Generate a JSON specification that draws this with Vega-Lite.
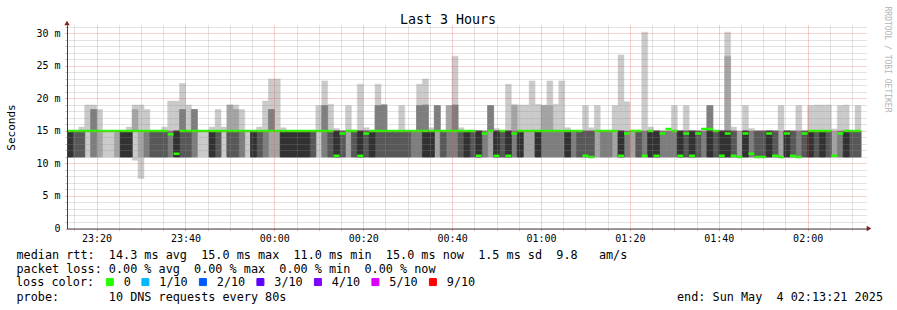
{
  "$schema": "https://vega.github.io/schema/vega-lite/v6.json",
  "width": 800,
  "height": 203.5,
  "autosize": {"type": "none"},
  "padding": {"left": 67, "top": 25, "right": 30, "bottom": 81.5},
  "background": "#ffffff",
  "title": {"text": "Last 3 Hours", "font": "DejaVu Sans Mono", "fontSize": 13.3, "fontWeight": "normal", "color": "#000000", "anchor": "middle", "frame": "group", "dx": -19, "dy": 24},
  "config": {"view": {"stroke": null}, "font": "DejaVu Sans Mono"},
  "data": {"values": [
{"t":"2025-05-03T23:13:20","e":"2025-05-03T23:14:40","p1":11,"p2":11,"p3":11,"p4":11,"p5":11,"p6":15,"p7":15,"p8":15,"p9":15,"p10":15,"m":15},
{"t":"2025-05-03T23:14:40","e":"2025-05-03T23:16:00","p1":11,"p2":11,"p3":11,"p4":11,"p5":15,"p6":15,"p7":15,"p8":15,"p9":15,"p10":15,"m":15},
{"t":"2025-05-03T23:16:00","e":"2025-05-03T23:17:20","p1":11,"p2":11,"p3":11,"p4":11,"p5":15,"p6":15,"p7":15,"p8":15,"p9":15,"p10":15.6,"m":15},
{"t":"2025-05-03T23:17:20","e":"2025-05-03T23:18:40","p1":11,"p2":15,"p3":15,"p4":15,"p5":15,"p6":15,"p7":15,"p8":15,"p9":15,"p10":19,"m":15},
{"t":"2025-05-03T23:18:40","e":"2025-05-03T23:20:00","p1":11,"p2":11,"p3":11,"p4":15,"p5":15,"p6":15,"p7":15,"p8":18.3,"p9":18.3,"p10":19,"m":15},
{"t":"2025-05-03T23:20:00","e":"2025-05-03T23:21:20","p1":11,"p2":11,"p3":15,"p4":15,"p5":15,"p6":15,"p7":15,"p8":15,"p9":15,"p10":18.3,"m":15},
{"t":"2025-05-03T23:21:20","e":"2025-05-03T23:22:40","p1":11,"p2":15,"p3":15,"p4":15,"p5":15,"p6":15,"p7":15,"p8":15,"p9":15,"p10":15,"m":15},
{"t":"2025-05-03T23:22:40","e":"2025-05-03T23:24:00","p1":11,"p2":15,"p3":15,"p4":15,"p5":15,"p6":15,"p7":15,"p8":15,"p9":15,"p10":15,"m":15},
{"t":"2025-05-03T23:24:00","e":"2025-05-03T23:25:20","p1":11,"p2":11,"p3":15,"p4":15,"p5":15,"p6":15,"p7":15,"p8":15,"p9":15,"p10":15,"m":15},
{"t":"2025-05-03T23:25:20","e":"2025-05-03T23:26:40","p1":11,"p2":11,"p3":11,"p4":11,"p5":11,"p6":15,"p7":15,"p8":15,"p9":15,"p10":15,"m":15},
{"t":"2025-05-03T23:26:40","e":"2025-05-03T23:28:00","p1":11,"p2":11,"p3":11,"p4":11,"p5":11,"p6":15,"p7":15,"p8":15,"p9":15,"p10":15.6,"m":15},
{"t":"2025-05-03T23:28:00","e":"2025-05-03T23:29:20","p1":10.5,"p2":15,"p3":15,"p4":15,"p5":15,"p6":15,"p7":15,"p8":15,"p9":18.3,"p10":19,"m":15},
{"t":"2025-05-03T23:29:20","e":"2025-05-03T23:30:40","p1":7.7,"p2":11,"p3":15,"p4":15,"p5":15,"p6":15,"p7":15,"p8":15,"p9":15,"p10":19,"m":15},
{"t":"2025-05-03T23:30:40","e":"2025-05-03T23:32:00","p1":11,"p2":11,"p3":11,"p4":15,"p5":15,"p6":15,"p7":15,"p8":15,"p9":15,"p10":18.3,"m":15},
{"t":"2025-05-03T23:32:00","e":"2025-05-03T23:33:20","p1":11,"p2":11,"p3":11,"p4":11,"p5":15,"p6":15,"p7":15,"p8":15,"p9":15,"p10":15,"m":15},
{"t":"2025-05-03T23:33:20","e":"2025-05-03T23:34:40","p1":11,"p2":11,"p3":11,"p4":11,"p5":15,"p6":15,"p7":15,"p8":15,"p9":15,"p10":15,"m":15},
{"t":"2025-05-03T23:34:40","e":"2025-05-03T23:36:00","p1":11,"p2":11,"p3":11,"p4":11,"p5":15,"p6":15,"p7":15,"p8":15,"p9":15,"p10":15.6,"m":15},
{"t":"2025-05-03T23:36:00","e":"2025-05-03T23:37:20","p1":11,"p2":11,"p3":11,"p4":15,"p5":15,"p6":15,"p7":15,"p8":15,"p9":15,"p10":19.6,"m":14.5},
{"t":"2025-05-03T23:37:20","e":"2025-05-03T23:38:40","p1":11,"p2":11,"p3":11,"p4":11,"p5":11,"p6":15,"p7":15,"p8":15,"p9":15,"p10":19.6,"m":11.5},
{"t":"2025-05-03T23:38:40","e":"2025-05-03T23:40:00","p1":11,"p2":11,"p3":11,"p4":11,"p5":15,"p6":15,"p7":15,"p8":18.3,"p9":18.3,"p10":22.3,"m":15},
{"t":"2025-05-03T23:40:00","e":"2025-05-03T23:41:20","p1":11,"p2":11,"p3":11,"p4":11,"p5":15,"p6":15,"p7":15,"p8":15,"p9":15,"p10":19,"m":15},
{"t":"2025-05-03T23:41:20","e":"2025-05-03T23:42:40","p1":11,"p2":11,"p3":11,"p4":15,"p5":15,"p6":15,"p7":15,"p8":18.3,"p9":18.3,"p10":18.3,"m":15},
{"t":"2025-05-03T23:42:40","e":"2025-05-03T23:44:00","p1":11,"p2":15,"p3":15,"p4":15,"p5":15,"p6":15,"p7":15,"p8":15,"p9":15,"p10":15,"m":15},
{"t":"2025-05-03T23:44:00","e":"2025-05-03T23:45:20","p1":11,"p2":15,"p3":15,"p4":15,"p5":15,"p6":15,"p7":15,"p8":15,"p9":15,"p10":15,"m":15},
{"t":"2025-05-03T23:45:20","e":"2025-05-03T23:46:40","p1":11,"p2":11,"p3":11,"p4":11,"p5":11,"p6":15,"p7":15,"p8":15,"p9":15,"p10":15.6,"m":15},
{"t":"2025-05-03T23:46:40","e":"2025-05-03T23:48:00","p1":11,"p2":11,"p3":11,"p4":11,"p5":15,"p6":15,"p7":15,"p8":15,"p9":15,"p10":18.3,"m":15},
{"t":"2025-05-03T23:48:00","e":"2025-05-03T23:49:20","p1":11,"p2":15,"p3":15,"p4":15,"p5":15,"p6":15,"p7":15,"p8":15,"p9":15,"p10":15.6,"m":15},
{"t":"2025-05-03T23:49:20","e":"2025-05-03T23:50:40","p1":11,"p2":11,"p3":11,"p4":11,"p5":15,"p6":15,"p7":15,"p8":15,"p9":19,"p10":19,"m":15},
{"t":"2025-05-03T23:50:40","e":"2025-05-03T23:52:00","p1":11,"p2":11,"p3":11,"p4":11,"p5":15,"p6":15,"p7":15,"p8":15,"p9":18.3,"p10":19,"m":15},
{"t":"2025-05-03T23:52:00","e":"2025-05-03T23:53:20","p1":11,"p2":11,"p3":11,"p4":15,"p5":15,"p6":15,"p7":15,"p8":15,"p9":15,"p10":18.3,"m":15},
{"t":"2025-05-03T23:53:20","e":"2025-05-03T23:54:40","p1":11,"p2":15,"p3":15,"p4":15,"p5":15,"p6":15,"p7":15,"p8":15,"p9":15,"p10":15,"m":15},
{"t":"2025-05-03T23:54:40","e":"2025-05-03T23:56:00","p1":11,"p2":11,"p3":11,"p4":11,"p5":11,"p6":15,"p7":15,"p8":15,"p9":15,"p10":15,"m":15},
{"t":"2025-05-03T23:56:00","e":"2025-05-03T23:57:20","p1":11,"p2":11,"p3":11,"p4":11,"p5":15,"p6":15,"p7":15,"p8":15,"p9":15,"p10":15.6,"m":15},
{"t":"2025-05-03T23:57:20","e":"2025-05-03T23:58:40","p1":11,"p2":11,"p3":11,"p4":15,"p5":15,"p6":15,"p7":15,"p8":15,"p9":15,"p10":19.6,"m":15},
{"t":"2025-05-03T23:58:40","e":"2025-05-04T00:00:00","p1":11,"p2":11,"p3":15,"p4":15,"p5":15,"p6":15,"p7":15,"p8":18.3,"p9":18.3,"p10":23,"m":15},
{"t":"2025-05-04T00:00:00","e":"2025-05-04T00:01:20","p1":11,"p2":11,"p3":15,"p4":15,"p5":15,"p6":15,"p7":15,"p8":15,"p9":15,"p10":23,"m":15},
{"t":"2025-05-04T00:01:20","e":"2025-05-04T00:02:40","p1":11,"p2":11,"p3":11,"p4":11,"p5":11,"p6":15,"p7":15,"p8":15,"p9":15,"p10":15.5,"m":15},
{"t":"2025-05-04T00:02:40","e":"2025-05-04T00:04:00","p1":11,"p2":11,"p3":11,"p4":11,"p5":11,"p6":15,"p7":15,"p8":15,"p9":15,"p10":15,"m":15},
{"t":"2025-05-04T00:04:00","e":"2025-05-04T00:05:20","p1":11,"p2":11,"p3":11,"p4":11,"p5":11,"p6":15,"p7":15,"p8":15,"p9":15,"p10":15,"m":15},
{"t":"2025-05-04T00:05:20","e":"2025-05-04T00:06:40","p1":11,"p2":11,"p3":11,"p4":11,"p5":11,"p6":15,"p7":15,"p8":15,"p9":15,"p10":15,"m":15},
{"t":"2025-05-04T00:06:40","e":"2025-05-04T00:08:00","p1":11,"p2":11,"p3":11,"p4":11,"p5":11,"p6":15,"p7":15,"p8":15,"p9":15,"p10":15,"m":15},
{"t":"2025-05-04T00:08:00","e":"2025-05-04T00:09:20","p1":11,"p2":11,"p3":11,"p4":11,"p5":15,"p6":15,"p7":15,"p8":15,"p9":15,"p10":15,"m":15},
{"t":"2025-05-04T00:09:20","e":"2025-05-04T00:10:40","p1":11,"p2":15,"p3":15,"p4":15,"p5":15,"p6":15,"p7":15,"p8":15,"p9":15,"p10":18.9,"m":15},
{"t":"2025-05-04T00:10:40","e":"2025-05-04T00:12:00","p1":11,"p2":11,"p3":11,"p4":15,"p5":15,"p6":15,"p7":15,"p8":18.9,"p9":18.9,"p10":22.7,"m":15},
{"t":"2025-05-04T00:12:00","e":"2025-05-04T00:13:20","p1":11,"p2":11,"p3":11,"p4":11,"p5":15,"p6":15,"p7":15,"p8":15,"p9":15,"p10":19.1,"m":15},
{"t":"2025-05-04T00:13:20","e":"2025-05-04T00:14:40","p1":11,"p2":11,"p3":11,"p4":11,"p5":11,"p6":15,"p7":15,"p8":15,"p9":15,"p10":15.4,"m":11.2},
{"t":"2025-05-04T00:14:40","e":"2025-05-04T00:16:00","p1":11,"p2":11,"p3":11,"p4":11,"p5":15,"p6":15,"p7":15,"p8":15,"p9":15,"p10":15,"m":14.6},
{"t":"2025-05-04T00:16:00","e":"2025-05-04T00:17:20","p1":11,"p2":11,"p3":15,"p4":15,"p5":15,"p6":15,"p7":15,"p8":15,"p9":15,"p10":18.9,"m":15},
{"t":"2025-05-04T00:17:20","e":"2025-05-04T00:18:40","p1":11,"p2":11,"p3":11,"p4":11,"p5":15,"p6":15,"p7":15,"p8":15,"p9":15,"p10":15,"m":15},
{"t":"2025-05-04T00:18:40","e":"2025-05-04T00:20:00","p1":11,"p2":11,"p3":11,"p4":11,"p5":11,"p6":15,"p7":15,"p8":15,"p9":15,"p10":22.2,"m":11.2},
{"t":"2025-05-04T00:20:00","e":"2025-05-04T00:21:20","p1":11,"p2":11,"p3":11,"p4":11,"p5":15,"p6":15,"p7":15,"p8":15,"p9":15,"p10":15.5,"m":14.6},
{"t":"2025-05-04T00:21:20","e":"2025-05-04T00:22:40","p1":11,"p2":11,"p3":11,"p4":11,"p5":11,"p6":15,"p7":15,"p8":15,"p9":15,"p10":15,"m":15},
{"t":"2025-05-04T00:22:40","e":"2025-05-04T00:24:00","p1":11,"p2":11,"p3":11,"p4":11,"p5":15,"p6":15,"p7":15,"p8":18.9,"p9":18.9,"p10":22.2,"m":15},
{"t":"2025-05-04T00:24:00","e":"2025-05-04T00:25:20","p1":11,"p2":11,"p3":11,"p4":11,"p5":15,"p6":15,"p7":15,"p8":19,"p9":19,"p10":19.1,"m":15},
{"t":"2025-05-04T00:25:20","e":"2025-05-04T00:26:40","p1":11,"p2":11,"p3":11,"p4":11,"p5":15,"p6":15,"p7":15,"p8":15,"p9":15,"p10":15,"m":15},
{"t":"2025-05-04T00:26:40","e":"2025-05-04T00:28:00","p1":11,"p2":11,"p3":11,"p4":11,"p5":15,"p6":15,"p7":15,"p8":15,"p9":15,"p10":15,"m":15},
{"t":"2025-05-04T00:28:00","e":"2025-05-04T00:29:20","p1":11,"p2":11,"p3":11,"p4":11,"p5":15,"p6":15,"p7":15,"p8":15,"p9":15,"p10":18.9,"m":15},
{"t":"2025-05-04T00:29:20","e":"2025-05-04T00:30:40","p1":11,"p2":11,"p3":11,"p4":11,"p5":15,"p6":15,"p7":15,"p8":15,"p9":15,"p10":15,"m":15},
{"t":"2025-05-04T00:30:40","e":"2025-05-04T00:32:00","p1":11,"p2":11,"p3":11,"p4":15,"p5":15,"p6":15,"p7":15,"p8":15,"p9":15,"p10":15,"m":15},
{"t":"2025-05-04T00:32:00","e":"2025-05-04T00:33:20","p1":11,"p2":11,"p3":11,"p4":15,"p5":15,"p6":15,"p7":15,"p8":18.9,"p9":18.9,"p10":22.2,"m":15},
{"t":"2025-05-04T00:33:20","e":"2025-05-04T00:34:40","p1":11,"p2":11,"p3":11,"p4":11,"p5":11,"p6":15,"p7":15,"p8":19,"p9":19,"p10":23,"m":15},
{"t":"2025-05-04T00:34:40","e":"2025-05-04T00:36:00","p1":11,"p2":11,"p3":11,"p4":11,"p5":11,"p6":15,"p7":15,"p8":15,"p9":15,"p10":15.5,"m":15},
{"t":"2025-05-04T00:36:00","e":"2025-05-04T00:37:20","p1":11,"p2":11,"p3":15,"p4":15,"p5":15,"p6":15,"p7":15,"p8":18.9,"p9":18.9,"p10":18.9,"m":15},
{"t":"2025-05-04T00:37:20","e":"2025-05-04T00:38:40","p1":11,"p2":11,"p3":11,"p4":11,"p5":15,"p6":15,"p7":15,"p8":15,"p9":15,"p10":15,"m":15},
{"t":"2025-05-04T00:38:40","e":"2025-05-04T00:40:00","p1":11,"p2":11,"p3":11,"p4":15,"p5":15,"p6":15,"p7":15,"p8":15,"p9":18.9,"p10":18.9,"m":15},
{"t":"2025-05-04T00:40:00","e":"2025-05-04T00:41:20","p1":11,"p2":11,"p3":11,"p4":15,"p5":15,"p6":15,"p7":15,"p8":19,"p9":19,"p10":26.5,"m":15},
{"t":"2025-05-04T00:41:20","e":"2025-05-04T00:42:40","p1":11,"p2":11,"p3":11,"p4":11,"p5":15,"p6":15,"p7":15,"p8":15,"p9":15,"p10":15.5,"m":15},
{"t":"2025-05-04T00:42:40","e":"2025-05-04T00:44:00","p1":11,"p2":11,"p3":11,"p4":11,"p5":11,"p6":15,"p7":15,"p8":15,"p9":15,"p10":15,"m":15},
{"t":"2025-05-04T00:44:00","e":"2025-05-04T00:45:20","p1":11,"p2":11,"p3":11,"p4":11,"p5":15,"p6":15,"p7":15,"p8":15,"p9":15,"p10":15,"m":15},
{"t":"2025-05-04T00:45:20","e":"2025-05-04T00:46:40","p1":11,"p2":11,"p3":11,"p4":11,"p5":11,"p6":15,"p7":15,"p8":15,"p9":15,"p10":15,"m":11.2},
{"t":"2025-05-04T00:46:40","e":"2025-05-04T00:48:00","p1":11,"p2":11,"p3":11,"p4":15,"p5":15,"p6":15,"p7":15,"p8":15,"p9":15,"p10":15,"m":14.6},
{"t":"2025-05-04T00:48:00","e":"2025-05-04T00:49:20","p1":11,"p2":11,"p3":15,"p4":15,"p5":15,"p6":15,"p7":15,"p8":18.9,"p9":18.9,"p10":18.9,"m":15},
{"t":"2025-05-04T00:49:20","e":"2025-05-04T00:50:40","p1":11,"p2":11,"p3":11,"p4":11,"p5":11,"p6":15,"p7":15,"p8":15,"p9":15,"p10":15.4,"m":11.2},
{"t":"2025-05-04T00:50:40","e":"2025-05-04T00:52:00","p1":11,"p2":11,"p3":11,"p4":11,"p5":15,"p6":15,"p7":15,"p8":15,"p9":15,"p10":15,"m":15},
{"t":"2025-05-04T00:52:00","e":"2025-05-04T00:53:20","p1":11,"p2":11,"p3":11,"p4":11,"p5":11,"p6":15,"p7":15,"p8":15,"p9":15,"p10":22.2,"m":11.2},
{"t":"2025-05-04T00:53:20","e":"2025-05-04T00:54:40","p1":11,"p2":11,"p3":11,"p4":15,"p5":15,"p6":15,"p7":15,"p8":15,"p9":18.9,"p10":19.1,"m":14.6},
{"t":"2025-05-04T00:54:40","e":"2025-05-04T00:56:00","p1":11,"p2":11,"p3":11,"p4":11,"p5":11,"p6":15,"p7":15,"p8":15,"p9":15,"p10":19,"m":15},
{"t":"2025-05-04T00:56:00","e":"2025-05-04T00:57:20","p1":11,"p2":11,"p3":15,"p4":15,"p5":15,"p6":15,"p7":15,"p8":15,"p9":15,"p10":19,"m":15},
{"t":"2025-05-04T00:57:20","e":"2025-05-04T00:58:40","p1":11,"p2":11,"p3":15,"p4":15,"p5":15,"p6":15,"p7":15,"p8":15,"p9":15,"p10":22.7,"m":15},
{"t":"2025-05-04T00:58:40","e":"2025-05-04T01:00:00","p1":11,"p2":11,"p3":11,"p4":11,"p5":11,"p6":15,"p7":15,"p8":15,"p9":15,"p10":19.1,"m":15},
{"t":"2025-05-04T01:00:00","e":"2025-05-04T01:01:20","p1":11,"p2":11,"p3":11,"p4":15,"p5":15,"p6":15,"p7":15,"p8":15,"p9":18.9,"p10":19,"m":15},
{"t":"2025-05-04T01:01:20","e":"2025-05-04T01:02:40","p1":11,"p2":11,"p3":11,"p4":15,"p5":15,"p6":15,"p7":15,"p8":15,"p9":18.9,"p10":22.7,"m":15},
{"t":"2025-05-04T01:02:40","e":"2025-05-04T01:04:00","p1":11,"p2":11,"p3":11,"p4":15,"p5":15,"p6":15,"p7":15,"p8":15,"p9":15,"p10":19.1,"m":15},
{"t":"2025-05-04T01:04:00","e":"2025-05-04T01:05:20","p1":11,"p2":11,"p3":11,"p4":15,"p5":15,"p6":15,"p7":15,"p8":15,"p9":15,"p10":22.7,"m":15},
{"t":"2025-05-04T01:05:20","e":"2025-05-04T01:06:40","p1":11,"p2":11,"p3":11,"p4":11,"p5":11,"p6":15,"p7":15,"p8":15,"p9":15,"p10":15.5,"m":15},
{"t":"2025-05-04T01:06:40","e":"2025-05-04T01:08:00","p1":11,"p2":11,"p3":11,"p4":15,"p5":15,"p6":15,"p7":15,"p8":15,"p9":15,"p10":15,"m":15},
{"t":"2025-05-04T01:08:00","e":"2025-05-04T01:09:20","p1":11,"p2":11,"p3":11,"p4":11,"p5":15,"p6":15,"p7":15,"p8":15,"p9":15,"p10":15,"m":15},
{"t":"2025-05-04T01:09:20","e":"2025-05-04T01:10:40","p1":11,"p2":11,"p3":11,"p4":11,"p5":11,"p6":11,"p7":15,"p8":15,"p9":15,"p10":18.9,"m":11.2},
{"t":"2025-05-04T01:10:40","e":"2025-05-04T01:12:00","p1":11,"p2":11,"p3":11,"p4":11,"p5":11,"p6":11,"p7":15,"p8":15,"p9":15,"p10":15.5,"m":11},
{"t":"2025-05-04T01:12:00","e":"2025-05-04T01:13:20","p1":11,"p2":11,"p3":15,"p4":15,"p5":15,"p6":15,"p7":15,"p8":15,"p9":15,"p10":18.9,"m":15},
{"t":"2025-05-04T01:13:20","e":"2025-05-04T01:14:40","p1":11,"p2":11,"p3":11,"p4":15,"p5":15,"p6":15,"p7":15,"p8":15,"p9":15,"p10":15,"m":15},
{"t":"2025-05-04T01:14:40","e":"2025-05-04T01:16:00","p1":11,"p2":11,"p3":11,"p4":15,"p5":15,"p6":15,"p7":15,"p8":15,"p9":15,"p10":15,"m":15},
{"t":"2025-05-04T01:16:00","e":"2025-05-04T01:17:20","p1":11,"p2":11,"p3":15,"p4":15,"p5":15,"p6":15,"p7":15,"p8":15,"p9":15,"p10":18.9,"m":15},
{"t":"2025-05-04T01:17:20","e":"2025-05-04T01:18:40","p1":11,"p2":11,"p3":11,"p4":11,"p5":11,"p6":15,"p7":15,"p8":15,"p9":15,"p10":26.7,"m":11.2},
{"t":"2025-05-04T01:18:40","e":"2025-05-04T01:20:00","p1":11,"p2":11,"p3":11,"p4":15,"p5":15,"p6":15,"p7":15,"p8":15,"p9":15,"p10":19.5,"m":14.6},
{"t":"2025-05-04T01:20:00","e":"2025-05-04T01:21:20","p1":11,"p2":11,"p3":15,"p4":15,"p5":15,"p6":15,"p7":15,"p8":15,"p9":15,"p10":15,"m":15},
{"t":"2025-05-04T01:21:20","e":"2025-05-04T01:22:40","p1":11,"p2":11,"p3":11,"p4":11,"p5":15,"p6":15,"p7":15,"p8":15,"p9":15,"p10":15,"m":15},
{"t":"2025-05-04T01:22:40","e":"2025-05-04T01:24:00","p1":11,"p2":11,"p3":11,"p4":11,"p5":11,"p6":11,"p7":11,"p8":15,"p9":15,"p10":30.2,"m":11.2},
{"t":"2025-05-04T01:24:00","e":"2025-05-04T01:25:20","p1":11,"p2":11,"p3":11,"p4":11,"p5":11,"p6":15,"p7":15,"p8":15,"p9":15,"p10":15.6,"m":15},
{"t":"2025-05-04T01:25:20","e":"2025-05-04T01:26:40","p1":11,"p2":11,"p3":11,"p4":11,"p5":11,"p6":15,"p7":15,"p8":15,"p9":15,"p10":15,"m":11.2},
{"t":"2025-05-04T01:26:40","e":"2025-05-04T01:28:00","p1":11,"p2":11,"p3":11,"p4":15,"p5":15,"p6":15,"p7":15,"p8":15,"p9":15,"p10":15,"m":14.6},
{"t":"2025-05-04T01:28:00","e":"2025-05-04T01:29:20","p1":11,"p2":11,"p3":11,"p4":15,"p5":15,"p6":15,"p7":15,"p8":15,"p9":15,"p10":15,"m":15.3},
{"t":"2025-05-04T01:29:20","e":"2025-05-04T01:30:40","p1":11,"p2":11,"p3":11,"p4":15,"p5":15,"p6":15,"p7":15,"p8":15,"p9":15,"p10":18.9,"m":15},
{"t":"2025-05-04T01:30:40","e":"2025-05-04T01:32:00","p1":11,"p2":11,"p3":11,"p4":11,"p5":11,"p6":15,"p7":15,"p8":15,"p9":15,"p10":15,"m":11.2},
{"t":"2025-05-04T01:32:00","e":"2025-05-04T01:33:20","p1":11,"p2":11,"p3":11,"p4":11,"p5":15,"p6":15,"p7":15,"p8":15,"p9":15,"p10":18.9,"m":14.6},
{"t":"2025-05-04T01:33:20","e":"2025-05-04T01:34:40","p1":11,"p2":11,"p3":11,"p4":11,"p5":11,"p6":15,"p7":15,"p8":15,"p9":15,"p10":15,"m":11.2},
{"t":"2025-05-04T01:34:40","e":"2025-05-04T01:36:00","p1":11,"p2":11,"p3":11,"p4":11,"p5":15,"p6":15,"p7":15,"p8":15,"p9":15,"p10":15,"m":14.6},
{"t":"2025-05-04T01:36:00","e":"2025-05-04T01:37:20","p1":11,"p2":11,"p3":11,"p4":15,"p5":15,"p6":15,"p7":15,"p8":15,"p9":15,"p10":15,"m":15.3},
{"t":"2025-05-04T01:37:20","e":"2025-05-04T01:38:40","p1":11,"p2":11,"p3":11,"p4":11,"p5":11,"p6":15,"p7":15,"p8":18.9,"p9":18.9,"p10":18.9,"m":15.3},
{"t":"2025-05-04T01:38:40","e":"2025-05-04T01:40:00","p1":11,"p2":11,"p3":11,"p4":11,"p5":15,"p6":15,"p7":15,"p8":15,"p9":15,"p10":15,"m":15},
{"t":"2025-05-04T01:40:00","e":"2025-05-04T01:41:20","p1":11,"p2":11,"p3":11,"p4":11,"p5":11,"p6":15,"p7":15,"p8":15,"p9":15,"p10":15,"m":11.2},
{"t":"2025-05-04T01:41:20","e":"2025-05-04T01:42:40","p1":11,"p2":11,"p3":11,"p4":11,"p5":11,"p6":15,"p7":15,"p8":15,"p9":26.5,"p10":30.2,"m":14.6},
{"t":"2025-05-04T01:42:40","e":"2025-05-04T01:44:00","p1":11,"p2":11,"p3":11,"p4":11,"p5":11,"p6":11,"p7":15,"p8":15,"p9":15,"p10":15.6,"m":11.2},
{"t":"2025-05-04T01:44:00","e":"2025-05-04T01:45:20","p1":11,"p2":11,"p3":11,"p4":11,"p5":11,"p6":11,"p7":11,"p8":11,"p9":15,"p10":15,"m":11},
{"t":"2025-05-04T01:45:20","e":"2025-05-04T01:46:40","p1":11,"p2":11,"p3":11,"p4":11,"p5":11,"p6":15,"p7":15,"p8":15,"p9":15,"p10":18.9,"m":14.6},
{"t":"2025-05-04T01:46:40","e":"2025-05-04T01:48:00","p1":11,"p2":11,"p3":11,"p4":11,"p5":11,"p6":11,"p7":11,"p8":15,"p9":15,"p10":15.4,"m":11.5},
{"t":"2025-05-04T01:48:00","e":"2025-05-04T01:49:20","p1":11,"p2":11,"p3":11,"p4":11,"p5":11,"p6":11,"p7":15,"p8":15,"p9":15,"p10":15,"m":11},
{"t":"2025-05-04T01:49:20","e":"2025-05-04T01:50:40","p1":11,"p2":11,"p3":11,"p4":11,"p5":11,"p6":11,"p7":15,"p8":15,"p9":15,"p10":15,"m":11},
{"t":"2025-05-04T01:50:40","e":"2025-05-04T01:52:00","p1":11,"p2":11,"p3":11,"p4":11,"p5":11,"p6":15,"p7":15,"p8":15,"p9":15,"p10":15,"m":14.6},
{"t":"2025-05-04T01:52:00","e":"2025-05-04T01:53:20","p1":11,"p2":11,"p3":11,"p4":11,"p5":11,"p6":11,"p7":15,"p8":15,"p9":15,"p10":15,"m":11.2},
{"t":"2025-05-04T01:53:20","e":"2025-05-04T01:54:40","p1":11,"p2":11,"p3":11,"p4":11,"p5":11,"p6":11,"p7":11,"p8":11,"p9":15,"p10":18.9,"m":11},
{"t":"2025-05-04T01:54:40","e":"2025-05-04T01:56:00","p1":11,"p2":11,"p3":11,"p4":11,"p5":11,"p6":15,"p7":15,"p8":15,"p9":15,"p10":15,"m":14.6},
{"t":"2025-05-04T01:56:00","e":"2025-05-04T01:57:20","p1":11,"p2":11,"p3":11,"p4":11,"p5":11,"p6":11,"p7":15,"p8":15,"p9":15,"p10":15,"m":11.2},
{"t":"2025-05-04T01:57:20","e":"2025-05-04T01:58:40","p1":11,"p2":11,"p3":11,"p4":11,"p5":11,"p6":11,"p7":11,"p8":15,"p9":15,"p10":18.9,"m":11},
{"t":"2025-05-04T01:58:40","e":"2025-05-04T02:00:00","p1":11,"p2":11,"p3":11,"p4":11,"p5":15,"p6":15,"p7":15,"p8":15,"p9":15,"p10":15,"m":14.6},
{"t":"2025-05-04T02:00:00","e":"2025-05-04T02:01:20","p1":11,"p2":11,"p3":11,"p4":11,"p5":11,"p6":15,"p7":15,"p8":15,"p9":15,"p10":18.9,"m":15},
{"t":"2025-05-04T02:01:20","e":"2025-05-04T02:02:40","p1":11,"p2":11,"p3":11,"p4":11,"p5":15,"p6":15,"p7":15,"p8":15,"p9":15,"p10":19,"m":15},
{"t":"2025-05-04T02:02:40","e":"2025-05-04T02:04:00","p1":11,"p2":11,"p3":11,"p4":11,"p5":11,"p6":15,"p7":15,"p8":15,"p9":15,"p10":19,"m":15},
{"t":"2025-05-04T02:04:00","e":"2025-05-04T02:05:20","p1":11,"p2":11,"p3":11,"p4":11,"p5":15,"p6":15,"p7":15,"p8":15,"p9":15,"p10":19,"m":15},
{"t":"2025-05-04T02:05:20","e":"2025-05-04T02:06:40","p1":11,"p2":11,"p3":11,"p4":11,"p5":11,"p6":11,"p7":11,"p8":11,"p9":15,"p10":15.3,"m":11.2},
{"t":"2025-05-04T02:06:40","e":"2025-05-04T02:08:00","p1":11,"p2":11,"p3":11,"p4":15,"p5":15,"p6":15,"p7":15,"p8":15,"p9":15,"p10":18.9,"m":14.6},
{"t":"2025-05-04T02:08:00","e":"2025-05-04T02:09:20","p1":11,"p2":11,"p3":11,"p4":11,"p5":11,"p6":15,"p7":15,"p8":15,"p9":15,"p10":19,"m":15},
{"t":"2025-05-04T02:09:20","e":"2025-05-04T02:10:40","p1":11,"p2":11,"p3":11,"p4":11,"p5":15,"p6":15,"p7":15,"p8":15,"p9":15,"p10":15,"m":15},
{"t":"2025-05-04T02:10:40","e":"2025-05-04T02:12:00","p1":11,"p2":11,"p3":11,"p4":11,"p5":15,"p6":15,"p7":15,"p8":15,"p9":15,"p10":18.9,"m":15}
  ]},
  "layer": [
    {
      "transform": [{"filter": "datum.p1 < datum.p10"}],
      "mark": {"type": "rect", "color": "#cacaca", "stroke": "#cacaca", "strokeWidth": 0.5, "clip": true},
      "encoding": {
        "x": {"field": "t", "type": "temporal",
          "scale": {"domain": [{"year": 2025, "month": 5, "date": 3, "hours": 23, "minutes": 13, "seconds": 21}, {"year": 2025, "month": 5, "date": 4, "hours": 2, "minutes": 13, "seconds": 21}], "nice": false},
          "axis": {
            "orient": "bottom",
            "title": ["median rtt:\u00a0\u00a014.3 ms avg\u00a0\u00a015.0 ms max\u00a0\u00a011.0 ms min\u00a0\u00a015.0 ms now\u00a0\u00a01.5 ms sd\u00a0\u00a09.8\u00a0\u00a0\u00a0am/s", "packet loss: 0.00 % avg\u00a0\u00a00.00 % max\u00a0\u00a00.00 % min\u00a0\u00a00.00 % now"],
            "titleX": -51, "titleY": 30, "titleAlign": "left", "titleAnchor": "start", "titleBaseline": "alphabetic",
            "titleFont": "DejaVu Sans Mono", "titleFontSize": 11.8, "titleFontWeight": "normal", "titleColor": "#000000", "titleLineHeight": 14,
            "values": [
              {"year": 2025, "month": 5, "date": 3, "hours": 23, "minutes": 20},
              {"year": 2025, "month": 5, "date": 3, "hours": 23, "minutes": 40},
              {"year": 2025, "month": 5, "date": 4, "hours": 0, "minutes": 0},
              {"year": 2025, "month": 5, "date": 4, "hours": 0, "minutes": 20},
              {"year": 2025, "month": 5, "date": 4, "hours": 0, "minutes": 40},
              {"year": 2025, "month": 5, "date": 4, "hours": 1, "minutes": 0},
              {"year": 2025, "month": 5, "date": 4, "hours": 1, "minutes": 20},
              {"year": 2025, "month": 5, "date": 4, "hours": 1, "minutes": 40},
              {"year": 2025, "month": 5, "date": 4, "hours": 2, "minutes": 0}
            ],
            "format": "%H:%M",
            "labelFont": "DejaVu Sans Mono", "labelFontSize": 10, "labelColor": "#000000", "labelPadding": 3,
            "labelOverlap": false, "labelFlush": false,
            "grid": true, "gridDash": [1, 1], "gridWidth": 1, "gridOpacity": 0.55, "gridColor": "#de4f4f",
            "ticks": true, "tickSize": 2, "tickOpacity": 0.55, "tickColor": "#de4f4f",
            "domain": true, "domainColor": "#404040", "domainWidth": 1, "zindex": 1
          }
        },
        "x2": {"field": "e"},
        "y": {"field": "p1", "type": "quantitative",
          "scale": {"domain": [0, 31.3], "nice": false},
          "axis": {
            "title": "Seconds", "titleX": -56, "titleY": 102, "titleAngle": -90, "titleAlign": "center", "titleBaseline": "middle",
            "titleFont": "DejaVu Sans Mono", "titleFontSize": 11, "titleFontWeight": "normal", "titleColor": "#000000",
            "values": [0,1,2,3,4,5,6,7,8,9,10,11,12,13,14,15,16,17,18,19,20,21,22,23,24,25,26,27,28,29,30,31],
            "labelExpr": "datum.value % 5 === 0 ? (datum.value === 0 ? '0' : datum.value + ' m') : ''",
            "labelFont": "DejaVu Sans Mono", "labelFontSize": 10, "labelColor": "#000000", "labelPadding": 5, "labelOverlap": false,
            "grid": true, "gridDash": [1, 1], "gridWidth": 1, "gridOpacity": 0.5,
            "gridColor": {"condition": {"test": "datum.value % 5 === 0", "value": "#de4f4f"}, "value": "#8f8f8f"},
            "ticks": true, "tickSize": 2, "tickOpacity": 0.55,
            "tickColor": {"condition": {"test": "datum.value % 5 === 0", "value": "#de4f4f"}, "value": "#8f8f8f"},
            "domain": true, "domainColor": "#404040", "domainWidth": 1, "zindex": 1
          }
        },
        "y2": {"field": "p10"}
      }
    },
    {
      "transform": [{"filter": "datum.p2 < datum.p9"}],
      "mark": {"type": "rect", "color": "#a4a4a4", "stroke": "#a4a4a4", "strokeWidth": 0.5, "clip": true},
      "encoding": {
        "x": {"field": "t", "type": "temporal",
          "axis": {
            "orient": "bottom", "labels": false, "domain": false,
            "title": "probe:\u00a0\u00a0\u00a0\u00a0\u00a0\u00a0\u00a010 DNS requests every 80s\u00a0\u00a0\u00a0\u00a0\u00a0\u00a0\u00a0\u00a0\u00a0\u00a0\u00a0\u00a0\u00a0\u00a0\u00a0\u00a0\u00a0\u00a0\u00a0\u00a0\u00a0\u00a0\u00a0\u00a0\u00a0\u00a0\u00a0\u00a0\u00a0\u00a0\u00a0\u00a0\u00a0\u00a0\u00a0\u00a0\u00a0\u00a0\u00a0\u00a0\u00a0\u00a0\u00a0\u00a0\u00a0\u00a0\u00a0\u00a0\u00a0\u00a0\u00a0\u00a0\u00a0\u00a0\u00a0end: Sun May\u00a0\u00a04 02:13:21 2025",
            "titleX": -51, "titleY": 72, "titleAlign": "left", "titleAnchor": "start", "titleBaseline": "alphabetic",
            "titleFont": "DejaVu Sans Mono", "titleFontSize": 11.8, "titleFontWeight": "normal", "titleColor": "#000000",
            "values": [
              {"year": 2025, "month": 5, "date": 3, "hours": 23, "minutes": 15},
              {"year": 2025, "month": 5, "date": 3, "hours": 23, "minutes": 25},
              {"year": 2025, "month": 5, "date": 3, "hours": 23, "minutes": 30},
              {"year": 2025, "month": 5, "date": 3, "hours": 23, "minutes": 35},
              {"year": 2025, "month": 5, "date": 3, "hours": 23, "minutes": 45},
              {"year": 2025, "month": 5, "date": 3, "hours": 23, "minutes": 50},
              {"year": 2025, "month": 5, "date": 3, "hours": 23, "minutes": 55},
              {"year": 2025, "month": 5, "date": 4, "hours": 0, "minutes": 5},
              {"year": 2025, "month": 5, "date": 4, "hours": 0, "minutes": 10},
              {"year": 2025, "month": 5, "date": 4, "hours": 0, "minutes": 15},
              {"year": 2025, "month": 5, "date": 4, "hours": 0, "minutes": 25},
              {"year": 2025, "month": 5, "date": 4, "hours": 0, "minutes": 30},
              {"year": 2025, "month": 5, "date": 4, "hours": 0, "minutes": 35},
              {"year": 2025, "month": 5, "date": 4, "hours": 0, "minutes": 45},
              {"year": 2025, "month": 5, "date": 4, "hours": 0, "minutes": 50},
              {"year": 2025, "month": 5, "date": 4, "hours": 0, "minutes": 55},
              {"year": 2025, "month": 5, "date": 4, "hours": 1, "minutes": 5},
              {"year": 2025, "month": 5, "date": 4, "hours": 1, "minutes": 10},
              {"year": 2025, "month": 5, "date": 4, "hours": 1, "minutes": 15},
              {"year": 2025, "month": 5, "date": 4, "hours": 1, "minutes": 25},
              {"year": 2025, "month": 5, "date": 4, "hours": 1, "minutes": 30},
              {"year": 2025, "month": 5, "date": 4, "hours": 1, "minutes": 35},
              {"year": 2025, "month": 5, "date": 4, "hours": 1, "minutes": 45},
              {"year": 2025, "month": 5, "date": 4, "hours": 1, "minutes": 50},
              {"year": 2025, "month": 5, "date": 4, "hours": 1, "minutes": 55},
              {"year": 2025, "month": 5, "date": 4, "hours": 2, "minutes": 5},
              {"year": 2025, "month": 5, "date": 4, "hours": 2, "minutes": 10}
            ],
            "grid": true, "gridDash": [1, 1], "gridWidth": 1, "gridOpacity": 0.5, "gridColor": "#8f8f8f",
            "ticks": true, "tickSize": 2, "tickOpacity": 0.55, "tickColor": "#8f8f8f", "zindex": 1
          }
        },
        "x2": {"field": "e"},
        "y": {"field": "p2", "type": "quantitative", "axis": null},
        "y2": {"field": "p9"}
      }
    },
    {
      "transform": [{"filter": "datum.p3 < datum.p8"}],
      "mark": {"type": "rect", "color": "#7e7e7e", "stroke": "#7e7e7e", "strokeWidth": 0.5, "clip": true},
      "encoding": {
        "x": {"field": "t", "type": "temporal", "axis": null},
        "x2": {"field": "e"},
        "y": {"field": "p3", "type": "quantitative", "axis": null},
        "y2": {"field": "p8"}
      }
    },
    {
      "transform": [{"filter": "datum.p4 < datum.p7"}],
      "mark": {"type": "rect", "color": "#585858", "stroke": "#585858", "strokeWidth": 0.5, "clip": true},
      "encoding": {
        "x": {"field": "t", "type": "temporal", "axis": null},
        "x2": {"field": "e"},
        "y": {"field": "p4", "type": "quantitative", "axis": null},
        "y2": {"field": "p7"}
      }
    },
    {
      "transform": [{"filter": "datum.p5 < datum.p6"}],
      "mark": {"type": "rect", "color": "#323232", "stroke": "#323232", "strokeWidth": 0.5, "clip": true},
      "encoding": {
        "x": {"field": "t", "type": "temporal", "axis": null},
        "x2": {"field": "e"},
        "y": {"field": "p5", "type": "quantitative", "axis": null},
        "y2": {"field": "p6"}
      }
    },
    {
      "mark": {"type": "rule", "strokeWidth": 2.5, "strokeCap": "butt", "clip": true},
      "encoding": {
        "x": {"field": "t", "type": "temporal", "axis": null},
        "x2": {"field": "e"},
        "y": {"field": "m", "type": "quantitative",
          "scale": {"domain": [0, 31.3], "nice": false},
          "axis": {"orient": "right", "title": "RRDTOOL / TOBI OETIKER", "labels": false, "ticks": false, "domain": false, "grid": false,
            "titleX": 19, "titleY": 34, "titleAngle": 90, "titleAlign": "center", "titleBaseline": "middle",
            "titleFont": "DejaVu Sans Mono", "titleFontSize": 8, "titleFontWeight": "normal", "titleColor": "#b4b4b4"}
        },
        "color": {"datum": "0", "type": "nominal",
          "scale": {"domain": ["0", "1/10", "2/10", "3/10", "4/10", "5/10", "9/10"], "range": ["#26ff00", "#00b8ff", "#0059ff", "#5e00ff", "#7e00ff", "#dd00ff", "#ff0000"]},
          "legend": {"title": "loss color:", "orient": "none", "legendX": -51, "legendY": 251, "direction": "horizontal",
            "titleOrient": "left", "titleBaseline": "middle", "titlePadding": 9,
            "titleFont": "DejaVu Sans Mono", "titleFontSize": 11.8, "titleFontWeight": "normal", "titleColor": "#000000",
            "labelFont": "DejaVu Sans Mono", "labelFontSize": 11.8, "labelColor": "#000000", "labelOffset": 8,
            "columnPadding": 8.5, "symbolType": "square", "symbolSize": 49, "symbolStrokeWidth": 1,
            "encode": {"symbols": {"update": {"fill": {"scale": "color", "field": "value"}, "stroke": {"value": "#000000"}, "opacity": {"value": 1}}}}
          }
        }
      }
    },
    {
      "data": {"values": [{}]},
      "mark": {"type": "point", "shape": "triangle-up", "size": 28, "filled": true, "color": "#801f1f", "opacity": 1, "yOffset": -2},
      "encoding": {
        "x": {"datum": {"year": 2025, "month": 5, "date": 3, "hours": 23, "minutes": 13, "seconds": 21}, "type": "temporal", "axis": null},
        "y": {"datum": 31.3, "type": "quantitative", "axis": null}
      }
    },
    {
      "data": {"values": [{}]},
      "mark": {"type": "point", "shape": "triangle-right", "size": 28, "filled": true, "color": "#801f1f", "opacity": 1, "xOffset": 2},
      "encoding": {
        "x": {"datum": {"year": 2025, "month": 5, "date": 4, "hours": 2, "minutes": 13, "seconds": 21}, "type": "temporal", "axis": null},
        "y": {"datum": 0, "type": "quantitative", "axis": null}
      }
    }
  ],
  "resolve": {"axis": {"x": "independent", "y": "independent"}}
}
